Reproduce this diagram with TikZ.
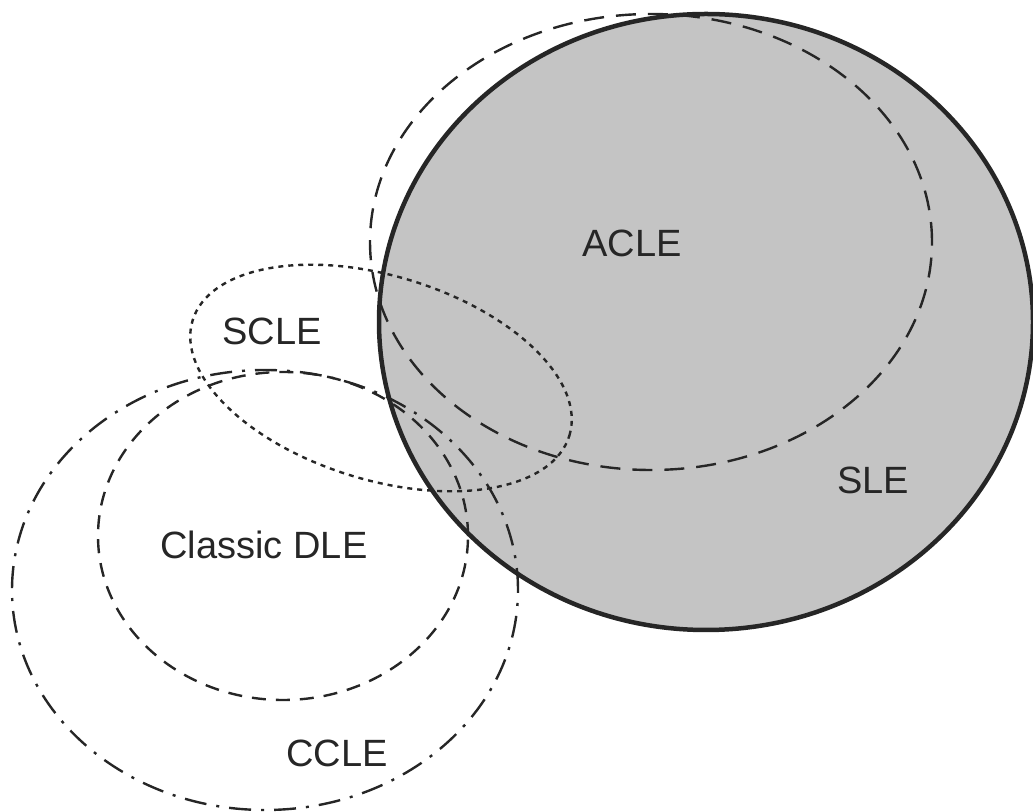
\documentclass[tikz,border=0pt]{standalone}
\usepackage{fontspec}
\setmainfont{Liberation Sans}
\usepackage{tikz}

\definecolor{slegray}{HTML}{C4C4C4}
\definecolor{inkgray}{HTML}{262626}

\begin{document}
\begin{tikzpicture}[
            x = 1pt, y = 1pt, % one unit is one pixel of the reference
            line join = round,
            inkgray
        ]

        \tikzstyle{every node}=[
            text = inkgray,
            font = \fontsize{38}{44}\selectfont
        ]
        \tikzstyle{sleline}=[draw = inkgray, line width = 4.5pt]
        \tikzstyle{acleline}=[draw = inkgray, line width = 2.4pt, dash pattern = on 20pt off 12pt]
        \tikzstyle{dleline}=[draw = inkgray, line width = 2.4pt, dash pattern = on 14pt off 10pt]
        \tikzstyle{scleline}=[draw = inkgray, line width = 2.4pt, dash pattern = on 5pt off 5pt]
        \tikzstyle{ccleline}=[draw = inkgray, line width = 2.4pt, dash pattern = on 22pt off 10pt on 3pt off 10pt]

        \useasboundingbox (0,0) rectangle (1033,811);

        % shaded region first, outlines over it
        \fill[slegray] (706,489) ellipse [x radius = 327, y radius = 308];

        \draw[acleline] (651,569) ellipse [x radius = 281, y radius = 228];
        \draw[scleline] (381,433) ellipse [x radius = 197, y radius = 102, rotate = -17];
        \draw[dleline] (283,275) ellipse [x radius = 185, y radius = 164];
        \draw[ccleline] (265,221) ellipse [x radius = 253, y radius = 220];
        \draw[sleline] (706,489) ellipse [x radius = 327, y radius = 308];

        \node (acle) at (632,568) {ACLE};
        \node (scle) at (272,480) {SCLE};
        \node (dle) at (264,266) {Classic DLE};
        \node (sle) at (873,331) {SLE};
        \node (ccle) at (337,58) {CCLE};

  \end{tikzpicture}
\end{document}
